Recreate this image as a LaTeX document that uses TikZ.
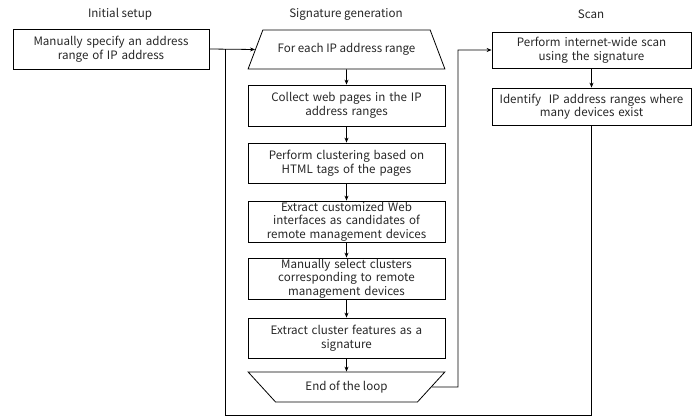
\documentclass[tikz,border=0pt]{standalone}
\usepackage{fontspec}
\setmainfont{Noto Sans CJK JP}
\usetikzlibrary{shapes.geometric,arrows.meta}
\begin{document}
\begin{tikzpicture}[x=1pt,y=-1pt,
  every node/.style={font=\fontsize{11.6}{13.6}\selectfont, text=black!85},
  box/.style={draw, line width=0.8pt, align=center, inner sep=0pt, text width=195pt},
  title/.style={font=\fontsize{11.6}{13.6}\selectfont},
  conn/.style={line width=0.8pt},
  arr/.style={conn, -{Stealth[length=5pt,width=4pt]}},
  trapA/.style={draw, line width=0.8pt, shape=trapezium, trapezium stretches=true, inner sep=0pt, align=center},
]
\useasboundingbox (0,0) rectangle (696,420);
% titles
\node[title] (t1) at (120,14) {Initial setup};
\node[title] (t2) at (346,14) {Signature generation};
\node[title] (t3) at (591,14) {Scan};
% left column
\node[box, minimum width=196pt, minimum height=40pt] (init) at (111,49) {Manually specify an address\\range of IP address};
% middle column
\node[trapA, minimum width=197pt, minimum height=39pt, trapezium left angle=45, trapezium right angle=45] (loopA) at (346.5,49.5) {For each IP address range};
\node[box, minimum width=197pt, minimum height=41pt] (b1) at (346.5,105.5) {Collect web pages in the IP\\address ranges};
\node[box, minimum width=197pt, minimum height=40pt] (b2) at (346.5,163) {Perform clustering based on\\HTML tags of the pages};
\node[box, minimum width=197pt, minimum height=41pt] (b3) at (346.5,221.5) {Extract customized Web\\interfaces as candidates of\\remote management devices};
\node[box, minimum width=197pt, minimum height=41pt] (b4) at (346.5,278.5) {Manually select clusters\\corresponding to remote\\management devices};
\node[box, minimum width=197pt, minimum height=40pt] (b5) at (346.5,338) {Extract cluster features as a\\signature};
\node[trapA, minimum width=197pt, minimum height=30pt, trapezium left angle=142.8, trapezium right angle=142.8] (loopB) at (346.5,387) {End of the loop};
% right column
\node[box, minimum width=199pt, minimum height=36pt] (s1) at (591.5,50) {Perform internet-wide scan\\using the signature};
\node[box, minimum width=199pt, minimum height=37pt] (s2) at (591.5,106.5) {Identify\ \ IP address ranges where\\many devices exist};
% helper coordinates
\coordinate (xl) at (225,415);
\coordinate (xr) at (458,387);
% connectors
\draw[arr] (init.east) -- (loopA.west);
\draw[arr] (loopA.south) -- (b1.north);
\draw[arr] (b1.south) -- (b2.north);
\draw[arr] (b2.south) -- (b3.north);
\draw[arr] (b3.south) -- (b4.north);
\draw[arr] (b4.south) -- (b5.north);
\draw[arr] (b5.south) -- (loopB.north);
\draw[arr] (loopB.east) -- (xr) |- (s1.west);
\draw[arr] (s1.south) -- (s2.north);
\draw[conn] (s2.south) |- (xl) -- (xl |- init.east);
\end{tikzpicture}
\end{document}
